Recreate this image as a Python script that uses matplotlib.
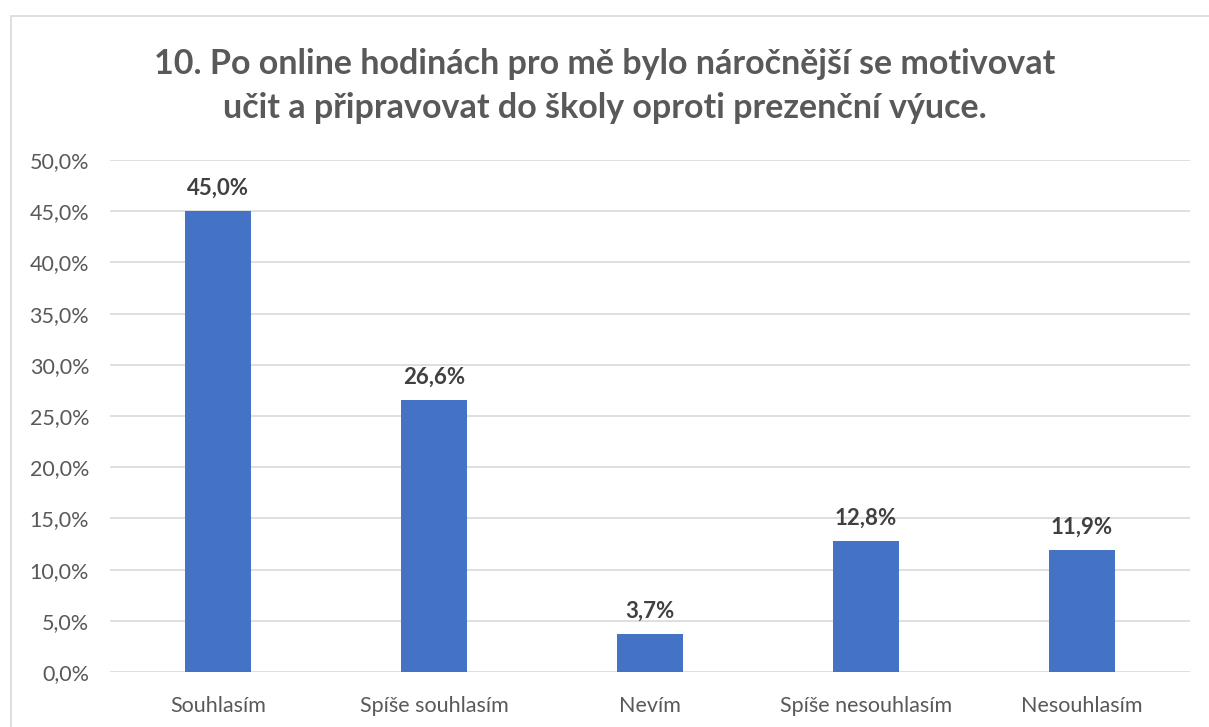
import matplotlib.pyplot as plt
from matplotlib.patches import Rectangle
from matplotlib.ticker import FuncFormatter

# Data
categories = ['Souhlasím', 'Spíše souhlasím', 'Nevím', 'Spíše nesouhlasím', 'Nesouhlasím']
values = [45.0, 26.6, 3.7, 12.8, 11.9]
title = '10. Po online hodinách pro mě bylo náročnější se motivovat\nučit a připravovat do školy oproti prezenční výuce.'

plt.rcParams['font.family'] = ['Lato', 'DejaVu Sans']

W, H = 1209, 727
fig = plt.figure(figsize=(W / 100, H / 100), dpi=100)

# Chart border (cut off at right/bottom as in the reference)
fig.patches.append(Rectangle((11 / W, -0.1), 1.2, (H - 16) / H + 0.1,
                             transform=fig.transFigure, fill=False,
                             edgecolor='#d9d9d9', linewidth=1.2))

ax = fig.add_axes([110 / W, 1 - 672 / H, 1080 / W, (672 - 160) / H])
x = range(len(categories))
ax.bar(x, values, width=0.31, color='#4472c4', zorder=3)

for i, v in enumerate(values):
    ax.text(i, v + 1.2, '{:.1f}%'.format(v).replace('.', ','),
            ha='center', va='bottom', fontsize=16, fontweight='bold', color='#404040')

ax.set_xlim(-0.5, len(categories) - 0.5)
ax.set_ylim(0, 50)
ax.set_yticks([i * 5 for i in range(11)])
ax.yaxis.set_major_formatter(FuncFormatter(lambda y, p: '{:.1f}%'.format(y).replace('.', ',')))
ax.set_xticks(list(x))
ax.set_xticklabels(categories)
ax.grid(axis='y', color='#d9d9d9', linewidth=1.2, zorder=0)
for s in ax.spines.values():
    s.set_visible(False)
ax.tick_params(axis='both', length=0, labelsize=15.5, labelcolor='#595959')
ax.tick_params(axis='y', pad=15)
ax.tick_params(axis='x', pad=17)

fig.text(0.5, 1 - 86 / H, title, ha='center', va='center', fontsize=24.5,
         fontweight='bold', color='#595959', linespacing=1.45)

fig.savefig('out.png', dpi=100)
